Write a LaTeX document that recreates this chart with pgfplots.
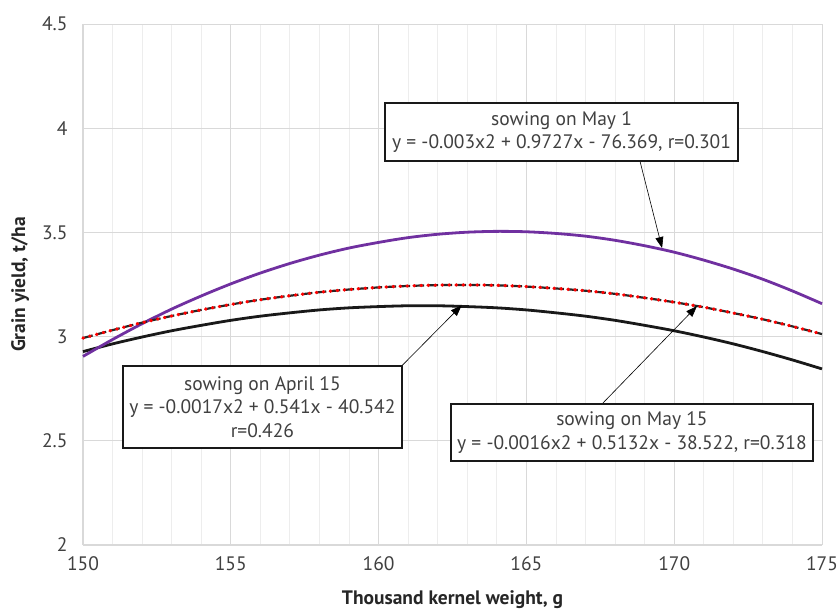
\documentclass[border=0pt]{standalone}
\usepackage{pgfplots}
\pgfplotsset{compat=1.18}
\usepackage{fontspec}
\setmainfont{PT Sans}
\usetikzlibrary{arrows.meta}
\definecolor{mypurple}{HTML}{7030A0}
\definecolor{gridmaj}{HTML}{D9D9D9}
\definecolor{gridmin}{HTML}{EDEDED}
\definecolor{ticktext}{HTML}{404040}
\begin{document}
\begin{tikzpicture}
\useasboundingbox (-83pt,-69pt) rectangle (756pt,545pt);
\begin{axis}[
  at={(0,0)}, anchor=south west,
  scale only axis, width=739pt, height=521pt,
  xmin=150, xmax=175, ymin=2, ymax=4.5,
  xtick={150,155,...,175}, ytick={2,2.5,...,4.5},
  minor x tick num=4,
  grid=both,
  major grid style={gridmaj, line width=0.9pt},
  minor grid style={gridmin, line width=0.9pt},
  axis line style={draw=none},
  tick style={draw=none},
  ticklabel style={font=\fontsize{19.5}{23}\selectfont, text=ticktext},
  /pgf/number format/assume math mode=true,
  xticklabel style={yshift=-8pt},
  yticklabel style={xshift=-12pt},
  xlabel={\textbf{Thousand kernel weight, g}},
  ylabel={\textbf{Grain yield, t/ha}},
  label style={font=\fontsize{19.5}{23}\selectfont, text=black!85},
  xlabel style={yshift=-13pt},
  ylabel style={yshift=6pt},
  clip=false,
]
\addplot[gridmaj, line width=1.1pt, forget plot] coordinates {(150,2) (175,2)};
\addplot[gridmaj, line width=1.1pt, forget plot] coordinates {(150,2) (150,4.5)};
% April 15 (black)
\addplot[black!90, line width=2.8pt, smooth] coordinates {
(150,2.928) (151,2.965) (152,2.998) (153,3.028) (154,3.054) (155,3.078)
(156,3.098) (157,3.114) (158,3.128) (159,3.138) (160,3.144) (161,3.148)
(162,3.148) (163,3.144) (164,3.138) (165,3.128) (166,3.114) (167,3.098)
(168,3.078) (169,3.054) (170,3.028) (171,2.998) (172,2.965) (173,2.928)
(174,2.888) (175,2.845)};
% May 1 (purple)
\addplot[mypurple, line width=2.8pt, smooth] coordinates {
(150,2.905) (151,2.986) (152,3.062) (153,3.132) (154,3.195) (155,3.253)
(156,3.305) (157,3.351) (158,3.391) (159,3.425) (160,3.452) (161,3.475)
(162,3.491) (163,3.501) (164,3.505) (165,3.503) (166,3.495) (167,3.482)
(168,3.462) (169,3.436) (170,3.405) (171,3.367) (172,3.324) (173,3.275)
(174,3.219) (175,3.158)};
% May 15 (black dashes + red dots)
\pgfplotstableread{
x y
150 2.993
151 3.031
152 3.067
153 3.099
154 3.128
155 3.154
156 3.177
157 3.196
158 3.213
159 3.226
160 3.236
161 3.243
162 3.247
163 3.248
164 3.246
165 3.240
166 3.231
167 3.220
168 3.205
169 3.186
170 3.165
171 3.141
172 3.113
173 3.083
174 3.049
175 3.012
}\mayfifteen
\addplot[black!85, line width=2.2pt, dash pattern=on 10pt off 4pt, smooth] table[x=x,y=y] {\mayfifteen};
\addplot[red, line width=3.4pt, line cap=round, dash pattern=on 0.4pt off 6.6pt, smooth] table[x=x,y=y] {\mayfifteen};
% annotations
\draw[black, line width=0.6pt, -{Triangle[length=11pt,width=8pt]}] (axis cs:168.84,3.843) -- (axis cs:169.59,3.425);
\draw[black, line width=0.6pt, -{Triangle[length=11pt,width=8pt]}] (axis cs:160.78,2.859) -- (axis cs:162.81,3.150);
\draw[black, line width=0.6pt, -{Triangle[length=11pt,width=8pt]}] (axis cs:167.56,2.677) -- (axis cs:170.77,3.146);
\node[draw=black!90, line width=1.3pt, fill=white, align=center, text=ticktext,
  font=\fontsize{19.5}{23.5}\selectfont, minimum width=353pt, minimum height=58pt, inner sep=2pt]
  at (axis cs:166.19,3.982) {sowing on May 1\\y = -0.003x2 + 0.9727x - 76.369, r=0.301};
\node[draw=black!90, line width=1.3pt, fill=white, align=center, text=ticktext,
  font=\fontsize{19.5}{23.5}\selectfont, minimum width=279pt, minimum height=82pt, inner sep=2pt]
  at (axis cs:156.07,2.662) {sowing on April 15\\y = -0.0017x2 + 0.541x - 40.542\\r=0.426};
\node[draw=black!90, line width=1.3pt, fill=white, align=center, text=ticktext,
  font=\fontsize{19.5}{23.5}\selectfont, minimum width=362pt, minimum height=57pt, inner sep=2pt]
  at (axis cs:168.57,2.540) {sowing on May 15\\y = -0.0016x2 + 0.5132x - 38.522, r=0.318};
\end{axis}
\end{tikzpicture}
\end{document}
